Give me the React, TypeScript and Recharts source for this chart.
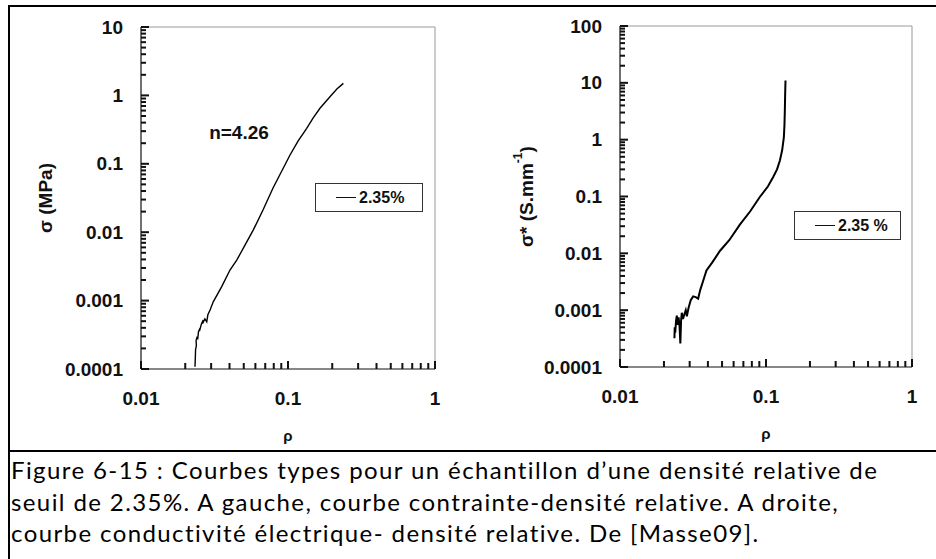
import React from "react";
import { LineChart, Line, XAxis, YAxis, ReferenceLine, ReferenceDot } from "recharts";

// relative density (rho) and stress (MPa), left panel
const leftRho = [
  0.0233, 0.02345, 0.0235, 0.0238, 0.0237, 0.0241, 0.0243, 0.0246, 0.0252, 0.025,
  0.0258, 0.0265, 0.0262, 0.0272, 0.028, 0.0285, 0.0295, 0.031, 0.0354, 0.0403,
  0.0448, 0.0581, 0.0676, 0.0791, 0.1032, 0.117, 0.134, 0.148, 0.165, 0.193,
  0.215, 0.238,
];
const leftSigma = [
  1.08e-4, 1.6e-4, 1.9e-4, 2.2e-4, 2.6e-4, 2.97e-4, 2.7e-4, 3.5e-4, 3.94e-4, 3.6e-4,
  4.6e-4, 5.2e-4, 4.6e-4, 5.4e-4, 4.9e-4, 6.2e-4, 7.3e-4, 9.6e-4, 1.6e-3, 2.8e-3,
  3.9e-3, 0.0108, 0.0211, 0.0443, 0.1345, 0.215, 0.33, 0.467, 0.648, 0.957,
  1.24, 1.5,
];

// relative density and electrical conductivity (S/mm), right panel
const rightRho = [
  0.0236, 0.0237, 0.0239, 0.0242, 0.0245, 0.0249, 0.0252, 0.0256, 0.0259, 0.0262,
  0.0265, 0.027, 0.0276, 0.0282, 0.0287, 0.0295, 0.0305, 0.0317, 0.033, 0.0343,
  0.0355, 0.037, 0.0391, 0.043, 0.0483, 0.056, 0.0662, 0.078, 0.0907, 0.103,
  0.112, 0.119, 0.1245, 0.129, 0.1325, 0.1338, 0.1346, 0.1352, 0.136,
];
const rightCond = [
  3.2e-4, 5.0e-4, 4.0e-4, 6.5e-4, 8.0e-4, 5.5e-4, 7.5e-4, 5.0e-4, 2.6e-4, 6.5e-4,
  9.0e-4, 7.0e-4, 8.5e-4, 1.0e-3, 7.8e-4, 1.1e-3, 1.5e-3, 1.75e-3, 1.7e-3, 1.6e-3,
  2.3e-3, 3.2e-3, 5.0e-3, 7.0e-3, 0.011, 0.017, 0.032, 0.055, 0.098, 0.15,
  0.22, 0.3, 0.43, 0.65, 1.1, 1.8, 3.3, 6.0, 11,
];

const X_DECADES = [0.01, 0.1, 1];
const LEFT_Y_DECADES = [0.0001, 0.001, 0.01, 0.1, 1, 10];
const RIGHT_Y_DECADES = [0.0001, 0.001, 0.01, 0.1, 1, 10, 100];
const MINOR_STEPS = [2, 3, 4, 5, 6, 7, 8, 9];

const FONT = "Arial, 'Liberation Sans', sans-serif";
const INK = "#111";

const withMinors = (decades: number[]) =>
  decades.flatMap((d, i) =>
    i < decades.length - 1 ? [d, ...MINOR_STEPS.map((s) => +(d * s).toPrecision(3))] : [d]
  );

const isDecade = (v: number) => Math.abs(Math.log10(v) - Math.round(Math.log10(v))) < 1e-6;

const zip = (xs: number[], ys: number[]) => xs.map((x, i) => ({ x, y: ys[i] }));

// ticks point into the plot, decades a bit longer and labelled
function YTick(props: any) {
  const x = Number(props.x);
  const y = Number(props.y);
  const major = isDecade(props.payload.value);
  return (
    <g>
      <rect x={x} y={y - 1} width={major ? 8 : 5} height={2} fill={INK} />
      {major && (
        <text x={x - 18} y={y} textAnchor="end" dominantBaseline="central"
          fontFamily={FONT} fontWeight="bold" fontSize={19} fill={INK}>
          {String(props.payload.value)}
        </text>
      )}
    </g>
  );
}

function XTick(props: any) {
  const x = Number(props.x);
  const y = Number(props.y);
  const major = isDecade(props.payload.value);
  const len = major ? 8 : 6;
  return (
    <g>
      <rect x={x - 1} y={y - len} width={2} height={len} fill={INK} />
      {major && (
        <text x={x} y={y + 29} textAnchor="middle" dominantBaseline="central"
          fontFamily={FONT} fontWeight="bold" fontSize={19} fill={INK}>
          {String(props.payload.value)}
        </text>
      )}
    </g>
  );
}

function YTitle({ viewBox, offset, sup, main, tail }: any) {
  const cx = viewBox.x + offset;
  const cy = viewBox.y + viewBox.height / 2;
  return (
    <text x={cx} y={cy} transform={`rotate(-90, ${cx}, ${cy})`} textAnchor="middle"
      dominantBaseline="central" fontFamily={FONT} fontWeight="bold" fontSize={19} fill={INK}>
      <tspan>{main}</tspan>
      {sup && <tspan dy={-8} fontSize={12}>{sup}</tspan>}
      {tail && <tspan dy={sup ? 8 : 0}>{tail}</tspan>}
    </text>
  );
}

function LegendBox({ left, top, width, name }: any) {
  return (
    <div style={{
      position: "absolute", left, top, width, height: 29, boxSizing: "border-box",
      border: "1.5px solid #333", background: "#fff", display: "flex", alignItems: "center",
      paddingLeft: 20, fontFamily: FONT, fontWeight: "bold", fontSize: 16, color: INK,
    }}>
      <span style={{ display: "inline-block", width: 20, height: 0, borderTop: "1.5px solid #111", marginRight: 3 }} />
      {name}
    </div>
  );
}

function Panel({ data, yDecades, margin, yTitle, titleOffset, strokeWidth, children }: any) {
  const yMin = yDecades[0];
  const yMax = yDecades[yDecades.length - 1];
  const xDom = [X_DECADES[0], X_DECADES[X_DECADES.length - 1]];
  return (
    <LineChart width={470} height={452} data={data} margin={margin}>
      <XAxis dataKey="x" type="number" scale="log" domain={xDom} allowDataOverflow
        ticks={withMinors(X_DECADES)} interval={0} tickSize={0} tickMargin={0}
        tick={<XTick />} tickLine={false} axisLine={{ stroke: INK, strokeWidth: 1.2 }} height={80}
        label={{ value: "ρ", position: "insideBottom", offset: 8, fontFamily: FONT, fontWeight: "bold", fontSize: 15, fill: INK }} />
      <YAxis type="number" scale="log" domain={[yMin, yMax]} allowDataOverflow
        ticks={withMinors(yDecades)} interval={0} tickSize={0} tickMargin={0}
        tick={<YTick />} tickLine={false} axisLine={{ stroke: INK, strokeWidth: 1.2 }} width={120}
        label={(p: any) => <YTitle {...p} offset={titleOffset} {...yTitle} />} />
      <ReferenceLine y={yMax} stroke="#999" strokeWidth={1} />
      <ReferenceLine x={xDom[1]} stroke="#999" strokeWidth={1} />
      <Line dataKey="y" type="linear" stroke="#000" strokeWidth={strokeWidth} dot={false}
        isAnimationActive={false} />
      {children}
    </LineChart>
  );
}

export default function App() {
  const leftData = zip(leftRho, leftSigma);
  const rightData = zip(rightRho, rightCond);
  return (
    <div style={{ position: "absolute", left: 0, top: 0, width: 936, height: 559, background: "#fff", overflow: "hidden" }}>
      <div style={{ position: "absolute", left: 8, top: 5, width: 940, height: 560, borderTop: "2px solid #000", borderLeft: "2px solid #000" }} />
      <div style={{ position: "absolute", left: 0, top: 0 }}>
        <Panel data={leftData} yDecades={LEFT_Y_DECADES} margin={{ top: 27, right: 35, left: 21, bottom: 3 }}
          yTitle={{ main: "σ (MPa)" }} titleOffset={24} strokeWidth={1.4}>
          <ReferenceDot x={0.0464} y={0.29} r={0} fill="none" stroke="none"
            label={{ value: "n=4.26", position: "center", fontFamily: FONT, fontWeight: "bold", fontSize: 19, fill: INK }} />
        </Panel>
        <LegendBox left={315} top={183} width={108} name="2.35%" />
      </div>
      <div style={{ position: "absolute", left: 466, top: 0 }}>
        <Panel data={rightData} yDecades={RIGHT_Y_DECADES} margin={{ top: 26, right: 24, left: 34, bottom: 5 }}
          yTitle={{ main: "σ* (S.mm", sup: "-1", tail: ")" }} titleOffset={26} strokeWidth={2} />
        <LegendBox left={328} top={211} width={107} name="2.35 %" />
      </div>
      <div style={{ position: "absolute", left: 8, top: 450, width: 928, height: 2, background: "#000" }} />
      <div style={{ position: "absolute", left: 11, top: 454, fontFamily: "Lato, 'Open Sans', sans-serif", fontSize: 24, letterSpacing: 1.4, lineHeight: "31.5px", color: "#000", whiteSpace: "nowrap" }}>
        <div>Figure 6-15 : Courbes types pour un échantillon d’une densité relative de</div>
        <div>seuil de 2.35%. A gauche, courbe contrainte-densité relative. A droite,</div>
        <div>courbe conductivité électrique- densité relative. De [Masse09].</div>
      </div>
    </div>
  );
}
